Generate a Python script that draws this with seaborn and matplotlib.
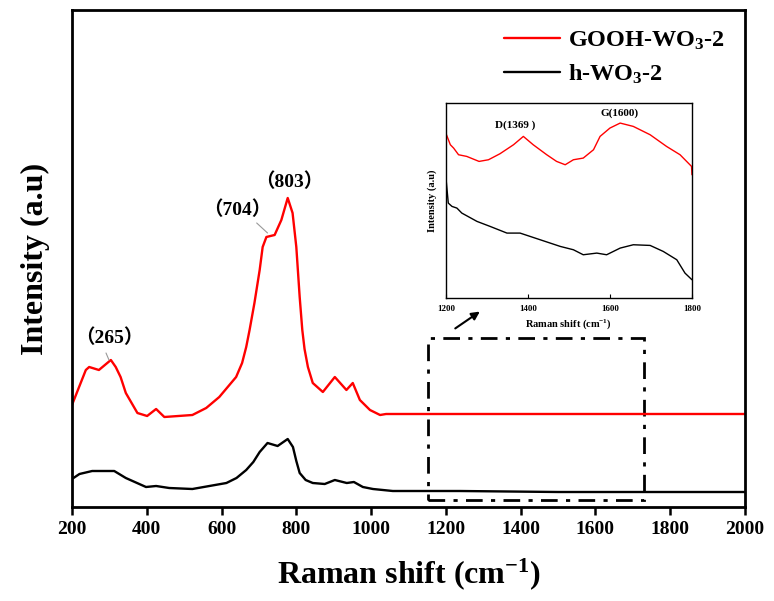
import numpy as np
import pandas as pd
import matplotlib
matplotlib.use("Agg")
import matplotlib.pyplot as plt
import seaborn as sns
from matplotlib.patches import Rectangle

# ---------------- data ----------------
red_x = [200, 219, 237, 246, 272, 304, 317, 330, 344, 375, 401, 425, 447, 522, 559, 594,
         639, 655, 666, 675, 688, 702, 710, 720, 742, 760, 777, 790, 800, 809, 816, 822,
         831, 844, 871, 903, 934, 951, 970, 997, 1024, 1040, 1300, 1500, 1700, 2000]
red_y = [102, 120, 137, 140, 137, 147, 140, 130, 114, 94, 91, 98, 90, 92, 99, 110,
         130, 144, 160, 177, 204, 237, 260, 270, 272, 287, 309, 294, 260, 210, 177, 158,
         140, 124, 115, 130, 117, 124, 107, 97, 92, 93, 93, 93, 93, 93]

blk_x = [200, 220, 254, 313, 344, 398, 425, 460, 522, 613, 640, 666, 685, 702, 723, 750,
         777, 791, 800, 809, 825, 844, 876, 903, 935, 954, 978, 1005, 1058, 1237, 1500,
         1800, 2000]
blk_y = [28, 33, 36, 36, 29, 20, 21, 19, 18, 24, 29, 37, 45, 55, 64, 61,
         68, 60, 46, 34, 27, 24, 23, 27, 24, 25, 20, 18, 16, 16, 15,
         15, 15]

ins_red_x = [1200, 1211, 1219, 1231, 1251, 1281, 1304, 1332, 1365, 1389, 1413, 1446, 1470,
             1491, 1511, 1535, 1560, 1576, 1600, 1625, 1657, 1698, 1738, 1771, 1799, 1800]
ins_red_y = [495, 460, 450, 430, 425, 410, 415, 433, 460, 485, 460, 430, 410,
             400, 415, 420, 445, 485, 510, 525, 515, 490, 455, 430, 395, 370]

ins_blk_x = [1200, 1206, 1215, 1227, 1239, 1276, 1308, 1349, 1381, 1430, 1479, 1511, 1535,
             1568, 1592, 1625, 1657, 1698, 1730, 1763, 1783, 1800]
ins_blk_y = [365, 285, 275, 270, 255, 230, 215, 195, 195, 175, 155, 145, 130,
             135, 130, 150, 160, 158, 140, 115, 75, 55]

series_names = ["GOOH-WO$_3$-2", "h-WO$_3$-2"]
main_ticks = [200, 400, 600, 800, 1000, 1200, 1400, 1600, 1800, 2000]
inset_ticks = [1200, 1400, 1600, 1800]
peak_labels = ["\uff08265\uff09", "\uff08704\uff09", "\uff08803\uff09"]
inset_peak_labels = ["D(1369 )", "G(1600)"]

# ---------------- style ----------------
sns.set_style("ticks")
plt.rcParams["font.family"] = ["Liberation Serif", "Noto Sans CJK SC"]
plt.rcParams["font.weight"] = "bold"
plt.rcParams["text.color"] = "black"
plt.rcParams["axes.labelcolor"] = "black"
plt.rcParams["xtick.color"] = "black"
plt.rcParams["ytick.color"] = "black"
plt.rcParams["axes.edgecolor"] = "black"
plt.rcParams["mathtext.fontset"] = "custom"
plt.rcParams["mathtext.rm"] = "Liberation Serif:bold"
plt.rcParams["mathtext.it"] = "Liberation Serif:bold:italic"
plt.rcParams["mathtext.bf"] = "Liberation Serif:bold"

fig = plt.figure(figsize=(7.74, 6.01), dpi=100)
ax = fig.add_axes([0.093, 0.1564, 0.8695, 0.827])

df = pd.concat([
    pd.DataFrame({"x": red_x, "y": red_y, "s": series_names[0]}),
    pd.DataFrame({"x": blk_x, "y": blk_y, "s": series_names[1]}),
])
sns.lineplot(data=df, x="x", y="y", hue="s", palette=["#ff0000", "#000000"],
             linewidth=1.7, ax=ax, sort=False, estimator=None)

ax.set_xlim(200, 2000)
ax.set_ylim(0, 497)
ax.set_xticks(main_ticks)
ax.set_yticks([])
for lab in ax.get_xticklabels():
    lab.set_fontweight("bold")
ax.tick_params(axis="x", direction="out", length=6, width=1.8, labelsize=14, pad=4,
               colors="black")
for sp in ax.spines.values():
    sp.set_linewidth(2.0)
    sp.set_color("black")
ax.set_xlabel("Raman shift (cm$^{-1}$)", fontsize=23, fontweight="bold", labelpad=13,
              color="black")
ax.set_ylabel("Intensity (a.u)", fontsize=23, fontweight="bold", labelpad=16, color="black")

leg = ax.legend(loc="upper right", frameon=False, fontsize=17.5, handlelength=2.3,
                handletextpad=0.35, labelspacing=0.45, bbox_to_anchor=(1.0, 1.0),
                borderaxespad=0.4)
for t in leg.get_texts():
    t.set_fontweight("bold")
    t.set_color("black")
for h in leg.get_lines():
    h.set_linewidth(1.7)

# peak annotations
ax.text(299, 169, peak_labels[0], fontsize=14, fontweight="bold", ha="center", va="center")
ax.text(643, 297, peak_labels[1], fontsize=14, fontweight="bold", ha="center", va="center")
ax.text(782, 325, peak_labels[2], fontsize=14, fontweight="bold", ha="center", va="center")
ax.plot([291, 299], [154, 147], color="#999999", lw=0.8)
ax.plot([694, 723], [284, 274], color="#999999", lw=0.8)

# dash-dot zoom rectangle
ax.add_patch(Rectangle((1152, 7), 1729 - 1152, 169 - 7, fill=False, lw=2.0,
                       ls=(0, (6, 3, 1.5, 3)), ec="black"))
# arrow to inset
ax.annotate("", xy=(1297, 197), xytext=(1219, 177),
            arrowprops=dict(arrowstyle="-|>", color="black", lw=1.5, mutation_scale=12))

# ---------------- inset ----------------
iax = fig.add_axes([0.576, 0.504, 0.318, 0.3245])
dfi = pd.concat([
    pd.DataFrame({"x": ins_red_x, "y": ins_red_y, "s": series_names[0]}),
    pd.DataFrame({"x": ins_blk_x, "y": ins_blk_y, "s": series_names[1]}),
])
sns.lineplot(data=dfi, x="x", y="y", hue="s", palette=["#ff0000", "#000000"],
             linewidth=1.0, ax=iax, sort=False, estimator=None, legend=False)
iax.set_xlim(1200, 1800)
iax.set_ylim(0, 585)
iax.set_xticks(inset_ticks)
iax.set_yticks([])
iax.tick_params(axis="x", direction="in", length=3, width=0.8, labelsize=6.5, pad=5,
                colors="black")
for sp in iax.spines.values():
    sp.set_linewidth(1.0)
    sp.set_color("black")
iax.set_xlabel("Raman shift (cm$^{-1}$)", fontsize=7.5, fontweight="bold", labelpad=3)
iax.set_ylabel("Intensity (a.u)", fontsize=7.5, fontweight="bold", labelpad=6)
iax.text(1368, 519, inset_peak_labels[0], fontsize=8, fontweight="bold", ha="center", va="center")
iax.text(1624, 555, inset_peak_labels[1], fontsize=8, fontweight="bold", ha="center", va="center")

fig.savefig("out.png", dpi=100)
